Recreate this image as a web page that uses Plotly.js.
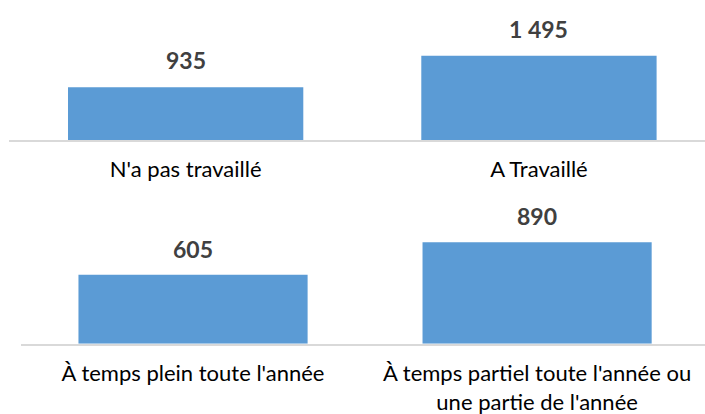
<!DOCTYPE html>
<html>
<head>
<meta charset="utf-8">
<script src="https://cdn.plot.ly/plotly-3.0.1.min.js"></script>
<style>
  html, body { margin: 0; padding: 0; background: #fff; }
  #chart { width: 705px; height: 414px; }
</style>
</head>
<body>
<div id="chart"></div>
<script>
// top panel: worked or not
var cats_top = ["N'a pas travaillé", "A Travaillé"];
var vals_top = [935, 1495];
// bottom panel: among those who worked
var cats_bot = ["À temps plein toute l'année", "À temps partiel toute l'année ou<br>une partie de l'année"];
var vals_bot = [605, 890];

var bar_color = "#5B9BD5";
var txt_color = "#404040";
var font_fam = "Lato, 'Open Sans', sans-serif";

function fmt(v) {
    // french thousands separator
    return String(v).replace(/\B(?=(\d{3})+(?!\d))/g, " ");
}

var trace1 = {
    x: cats_top, y: vals_top, type: 'bar',
    xaxis: 'x', yaxis: 'y',
    width: 0.666,
    marker: { color: bar_color },
    hoverinfo: 'none'
};
var trace2 = {
    x: cats_bot, y: vals_bot, type: 'bar',
    xaxis: 'x2', yaxis: 'y2',
    width: 0.666,
    marker: { color: bar_color },
    hoverinfo: 'none'
};

var annots = [];
for (let i = 0; i < cats_top.length; i++) {
    annots.push({
        x: cats_top[i], y: vals_top[i], xref: 'x', yref: 'y',
        text: '<b>' + fmt(vals_top[i]) + '</b>',
        showarrow: false, yanchor: 'middle', yshift: 27,
        font: { family: font_fam, size: 23, color: txt_color }
    });
}
for (let i = 0; i < cats_bot.length; i++) {
    annots.push({
        x: cats_bot[i], y: vals_bot[i], xref: 'x2', yref: 'y2',
        text: '<b>' + fmt(vals_bot[i]) + '</b>',
        showarrow: false, yanchor: 'middle', yshift: 26,
        font: { family: font_fam, size: 23, color: txt_color }
    });
}

var axis_x = {
    type: 'category',
    showgrid: false, zeroline: false,
    showline: true, linecolor: '#D9D9D9', linewidth: 2,
    ticks: '', ticklabelstandoff: 9,
    tickfont: { family: font_fam, size: 22, color: '#000' },
    fixedrange: true
};

var layout = {
    width: 705, height: 414,
    margin: { l: 0, r: 0, t: 0, b: 0 },
    showlegend: false,
    plot_bgcolor: '#fff', paper_bgcolor: '#fff',
    xaxis: Object.assign({}, axis_x, { domain: [9 / 705, 1], range: [-0.5, 1.47], anchor: 'y' }),
    yaxis: { domain: [(414 - 140) / 414, 1], range: [0, 2487], visible: false, anchor: 'x', fixedrange: true },
    xaxis2: Object.assign({}, axis_x, { domain: [21 / 705, 1], range: [-0.5, 1.488], anchor: 'y2' }),
    yaxis2: { domain: [(414 - 343.7) / 414, (414 - 200) / 414], range: [0, 1260], visible: false, anchor: 'x2', fixedrange: true },
    annotations: annots
};

Plotly.newPlot('chart', [trace1, trace2], layout, { displayModeBar: false, staticPlot: true });
</script>
</body>
</html>
